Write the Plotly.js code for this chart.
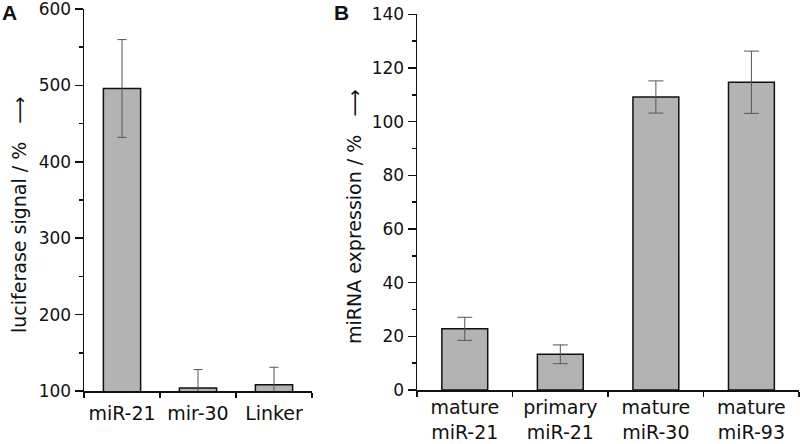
<!DOCTYPE html>
<html>
<head>
<meta charset="utf-8">
<script src="https://cdn.plot.ly/plotly-3.0.1.min.js"></script>
<style>html,body{margin:0;padding:0;background:#fff;}#chart{width:800px;height:444px;}</style>
</head>
<body>
<div id="chart"></div>
<script>
// Panel A data
var catsA = ["miR-21", "mir-30", "Linker"];
var valsA = [496, 104, 108];
var errA = [64, 24, 23];
// Panel B data
var catsB = ["mature<br>miR-21", "primary<br>miR-21", "mature<br>miR-30", "mature<br>miR-93"];
var valsB = [22.8, 13.3, 109.2, 114.7];
var errB = [4.3, 3.5, 6.0, 11.6];

var font = "DejaVu Sans, Verdana, sans-serif";
var boldFont = "Liberation Sans, Arial, sans-serif";
var barStyle = {color: "#b3b3b3", line: {color: "#111", width: 1.5}};

var traces = [
  {type: "bar", x: catsA, y: valsA, xaxis: "x", yaxis: "y", marker: barStyle, width: 0.49,
   error_y: {type: "data", array: errA, visible: true, color: "#555", thickness: 1, width: 4.5}, hoverinfo: "none"},
  {type: "bar", x: catsB, y: valsB, xaxis: "x2", yaxis: "y2", marker: barStyle, width: 0.48,
   error_y: {type: "data", array: errB, visible: true, color: "#555", thickness: 1, width: 7.5}, hoverinfo: "none"}
];

function xax(dom, anchor, standoff) {
  return {domain: dom, anchor: anchor, type: "category", showline: true, linecolor: "#111", linewidth: 1.5,
    ticks: "outside", tickson: "boundaries", ticklen: 5, tickwidth: 1.5, tickcolor: "#111", tickangle: 0,
    ticklabelstandoff: standoff,
    showgrid: false, zeroline: false, tickfont: {family: font, size: 19, color: "#111"}, fixedrange: true};
}
function yax(dom, anchor, range, dtick, minor) {
  return {domain: dom, anchor: anchor, range: range, dtick: dtick, tick0: 0, showline: true, linecolor: "#111", linewidth: 1.5,
    ticks: "outside", ticklen: 8, tickwidth: 1.5, tickcolor: "#111", showgrid: false, zeroline: false,
    ticklabeloverflow: "allow",
    minor: {dtick: minor, ticks: "outside", ticklen: 4, tickwidth: 1.5, tickcolor: "#111"},
    tickfont: {family: font, size: 17, color: "#111"}, fixedrange: true};
}

var layout = {
  width: 800, height: 444,
  margin: {l: 0, r: 0, t: 0, b: 0},
  paper_bgcolor: "#fff", plot_bgcolor: "#fff",
  showlegend: false,
  xaxis: xax([84/800, 312/800], "y", 5),
  yaxis: yax([(444-391)/444, (444-9)/444], "x", [99.95, 600.05], 100, 50),
  xaxis2: xax([417/800, 0.999], "y2", 0),
  yaxis2: yax([(444-390)/444, (444-14.3)/444], "x2", [0, 140.02], 20, 10),
  annotations: [
    {text: "<b>A</b>", xref: "paper", yref: "paper", x: 0, y: 1, xanchor: "left", yanchor: "top", yshift: 1,
     showarrow: false, font: {family: boldFont, size: 21, color: "#111"}},
    {text: "<b>B</b>", xref: "paper", yref: "paper", x: 332/800, y: 1, xanchor: "left", yanchor: "top", yshift: 1,
     showarrow: false, font: {family: boldFont, size: 21, color: "#111"}},
    {text: "luciferase signal / %\u00a0\u00a0\u00a0\u27f6", xref: "paper", yref: "paper", x: 19/800, y: 1-215/444,
     xanchor: "center", yanchor: "middle", textangle: -90, showarrow: false, font: {family: font, size: 19, color: "#111"}},
    {text: "miRNA expression / %\u00a0\u00a0\u00a0\u27f6", xref: "paper", yref: "paper", x: 354/800, y: 1-217/444,
     xanchor: "center", yanchor: "middle", textangle: -90, showarrow: false, font: {family: font, size: 19, color: "#111"}}
  ]
};

Plotly.newPlot("chart", traces, layout, {displayModeBar: false, staticPlot: true});
</script>
</body>
</html>
